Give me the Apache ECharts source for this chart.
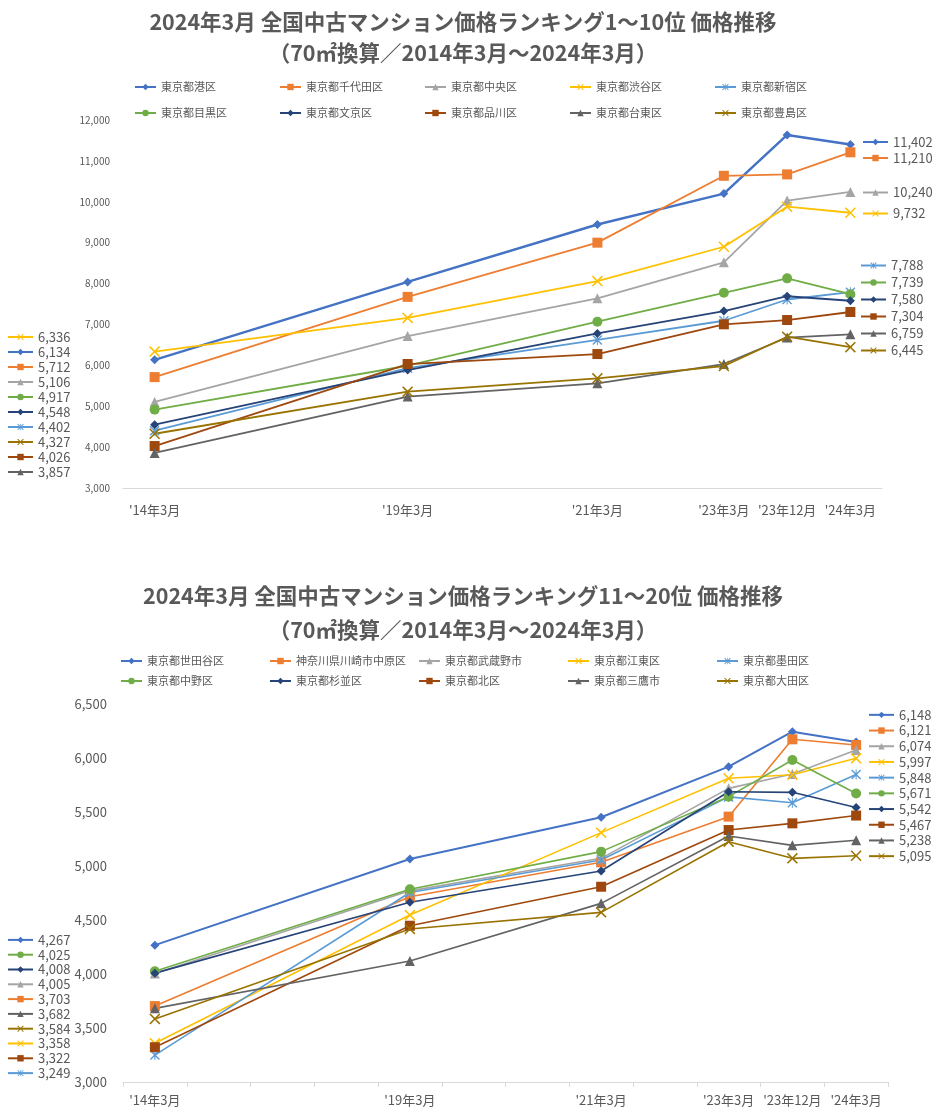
<!DOCTYPE html>
<html><head><meta charset="utf-8">
<script src="https://cdn.jsdelivr.net/npm/echarts@6/dist/echarts.min.js"></script>
<style>html,body{margin:0;padding:0;background:#fff}#c{width:945px;height:1119px}</style>
</head><body><div id="c"></div>
<script>
// ---------- DATA ----------
const categories = ["'14年3月","","","","'19年3月","","","'21年3月","","'23年3月","'23年12月","'24年3月"];

const title1 = "2024年3月 全国中古マンション価格ランキング1～10位 価格推移\n（70㎡換算／2014年3月～2024年3月）";
const title2 = "2024年3月 全国中古マンション価格ランキング11～20位 価格推移\n（70㎡換算／2014年3月～2024年3月）";

const names1 = ["東京都港区","東京都千代田区","東京都中央区","東京都渋谷区","東京都新宿区","東京都目黒区","東京都文京区","東京都品川区","東京都台東区","東京都豊島区"];
const minato   = [6134, 8040, 9445, 10200, 11635, 11402];
const chiyoda  = [5712, 7675, 9000, 10635, 10670, 11210];
const chuo     = [5106, 6716, 7640, 8520, 10030, 10240];
const shibuya  = [6336, 7160, 8060, 8900, 9880, 9732];
const shinjuku = [4402, 5930, 6620, 7090, 7610, 7788];
const meguro   = [4917, 5990, 7066, 7775, 8127, 7739];
const bunkyo   = [4548, 5885, 6780, 7328, 7690, 7580];
const shinagawa= [4026, 6032, 6276, 7003, 7108, 7304];
const taito    = [3857, 5235, 5560, 6032, 6680, 6759];
const toshima  = [4327, 5355, 5682, 5983, 6700, 6445];
const values1 = [minato, chiyoda, chuo, shibuya, shinjuku, meguro, bunkyo, shinagawa, taito, toshima];

const names2 = ["東京都世田谷区","神奈川県川崎市中原区","東京都武蔵野市","東京都江東区","東京都墨田区","東京都中野区","東京都杉並区","東京都北区","東京都三鷹市","東京都大田区"];
const setagaya = [4267, 5065, 5451, 5920, 6244, 6148];
const nakahara = [3703, 4716, 5034, 5457, 6173, 6121];
const musashino= [4005, 4770, 5071, 5719, 5852, 6074];
const koto     = [3358, 4546, 5309, 5812, 5845, 5997];
const sumida   = [3249, 4755, 5056, 5640, 5586, 5848];
const nakano   = [4025, 4784, 5133, 5642, 5981, 5671];
const suginami = [4008, 4664, 4954, 5688, 5682, 5542];
const kita     = [3322, 4447, 4808, 5333, 5395, 5467];
const mitaka   = [3682, 4120, 4654, 5278, 5191, 5238];
const ota      = [3584, 4417, 4571, 5225, 5071, 5095];
const values2 = [setagaya, nakahara, musashino, koto, sumida, nakano, suginami, kita, mitaka, ota];

const yTicks1 = {min: 3000, max: 12000, interval: 1000};
const yTicks2 = {min: 3000, max: 6500, interval: 500};

// ---------- STYLE ----------
const colors = ['#4472C4','#ED7D31','#A5A5A5','#FFC000','#5B9BD5','#70AD47','#264478','#9E480E','#636363','#997300'];
const XS = 'path://M0,1L1,0L5,4L9,0L10,1L6,5L10,9L9,10L5,6L1,10L0,9L4,5Z';
const STAR = 'path://M0,1L1,0L5,4L9,0L10,1L6,5L10,9L9,10L5,6L1,10L0,9L4,5ZM4.5,0L5.5,0L5.5,10L4.5,10Z';
const symbols = ['diamond','rect','triangle',XS,STAR,'circle','diamond','rect','triangle',XS];
const symSizes = [9,10,10,11,10,10,9,10,10,11];
const FONT = '"Noto Sans CJK JP", "Noto Sans", sans-serif';
const GRAY = '#595959';

const slots = categories.map((c,i)=>c!==''?i:-1).filter(i=>i>=0);
function fullData(vals){
  const d = categories.map(()=>null);
  vals.forEach((v,k)=>{ d[slots[k]] = v; });
  return d;
}
const fmt = v => v.toLocaleString('en-US');
const firstMap = {}, lastMap = {};
[[names1,values1],[names2,values2]].forEach(([ns,vs])=>{
  ns.forEach((n,i)=>{ firstMap[n]=fmt(vs[i][0]); lastMap[n]=fmt(vs[i][vs[i].length-1]); });
});
function orderBy(ns, vs, idx){
  return ns.map((n,i)=>[n,vs[i][idx]]).sort((a,b)=>b[1]-a[1]).map(x=>x[0]);
}

const series = [];
[[names1,values1,0],[names2,values2,1]].forEach(([ns,vs,g])=>{
  ns.forEach((n,i)=>{
    series.push({
      name:n, type:'line', xAxisIndex:g, yAxisIndex:g,
      data: fullData(vs[i]), connectNulls:true,
      symbol: symbols[i], symbolSize: symSizes[i], showSymbol:true,
      lineStyle:{width: i===0 ? (g===0?2.5:2) : (g===0?1.8:1.6), color: colors[i]},
      itemStyle:{color: colors[i]},
      color: colors[i],
      emphasis:{disabled:true}
    });
  });
});

function mainLegend(ns, left, top, textW){
  return {data: ns, left, top, orient:'horizontal', padding:0, itemGap:10,
    itemWidth:21, itemHeight:8,
    textStyle:{fontFamily:FONT, fontSize:11, color:GRAY, width:textW, overflow:'truncate', lineHeight:14}};
}
function valueLegend(ns, map, left, top, lh){
  return {data: ns, left, top, orient:'vertical', padding:0, itemGap:0,
    itemWidth:25, itemHeight:8, formatter: n => map[n],
    textStyle:{fontFamily:FONT, fontSize:13, color:GRAY, lineHeight:lh}};
}

const startOrder1 = orderBy(names1, values1, 0);
const endOrder1 = orderBy(names1, values1, 5);
const startOrder2 = orderBy(names2, values2, 0);
const endOrder2 = orderBy(names2, values2, 5);

const option = {
  animation:false,
  color: colors,
  textStyle:{fontFamily:FONT},
  title:[
    {text:title1, left:463, top:6, padding:0, textAlign:'center',
     textStyle:{fontFamily:FONT, fontSize:21.5, fontWeight:'bold', color:GRAY, lineHeight:31}},
    {text:title2, left:463, top:579, padding:0, textAlign:'center',
     textStyle:{fontFamily:FONT, fontSize:21.5, fontWeight:'bold', color:GRAY, lineHeight:34}}
  ],
  legend:[
    mainLegend(names1.slice(0,5), 134, 80, 108),
    mainLegend(names1.slice(5), 134, 106, 108),
    mainLegend(names2.slice(0,5), 120, 654, 112),
    mainLegend(names2.slice(5), 120, 674, 112),
    valueLegend(startOrder1, firstMap, 7, 329.5, 15),
    valueLegend(endOrder1.slice(0,2), lastMap, 862, 134, 16),
    valueLegend(endOrder1.slice(2,4), lastMap, 862, 182, 21),
    valueLegend(endOrder1.slice(4), lastMap, 860, 257, 17),
    valueLegend(startOrder2, firstMap, 7, 932.5, 14.8),
    valueLegend(endOrder2, lastMap, 868, 707, 15.7)
  ],
  grid:[
    {left:123, right:63, top:120, height:368},
    {left:123, right:57, top:704, height:378}
  ],
  xAxis:[
    {type:'category', gridIndex:0, data:categories, boundaryGap:true,
     axisLine:{lineStyle:{color:'#D9D9D9'}}, axisTick:{show:false},
     axisLabel:{interval:0, margin:16, fontSize:13, color:GRAY, fontFamily:FONT}},
    {type:'category', gridIndex:1, data:categories, boundaryGap:true,
     axisLine:{lineStyle:{color:'#D9D9D9'}}, axisTick:{show:true, interval:0, length:5, lineStyle:{color:'#D9D9D9'}},
     axisLabel:{interval:0, margin:12, fontSize:13, color:GRAY, fontFamily:FONT}}
  ],
  yAxis:[
    {type:'value', gridIndex:0, min:yTicks1.min, max:yTicks1.max, interval:yTicks1.interval,
     splitLine:{show:false}, axisLine:{show:false}, axisTick:{show:false},
     axisLabel:{margin:13, fontSize:10, color:GRAY, fontFamily:FONT, formatter:fmt}},
    {type:'value', gridIndex:1, min:yTicks2.min, max:yTicks2.max, interval:yTicks2.interval,
     splitLine:{show:false}, axisLine:{show:false}, axisTick:{show:false},
     axisLabel:{margin:16, fontSize:13, color:GRAY, fontFamily:FONT, formatter:fmt}}
  ],
  series
};
const chart = echarts.init(document.getElementById('c'));
chart.setOption(option);
</script>
</body></html>
